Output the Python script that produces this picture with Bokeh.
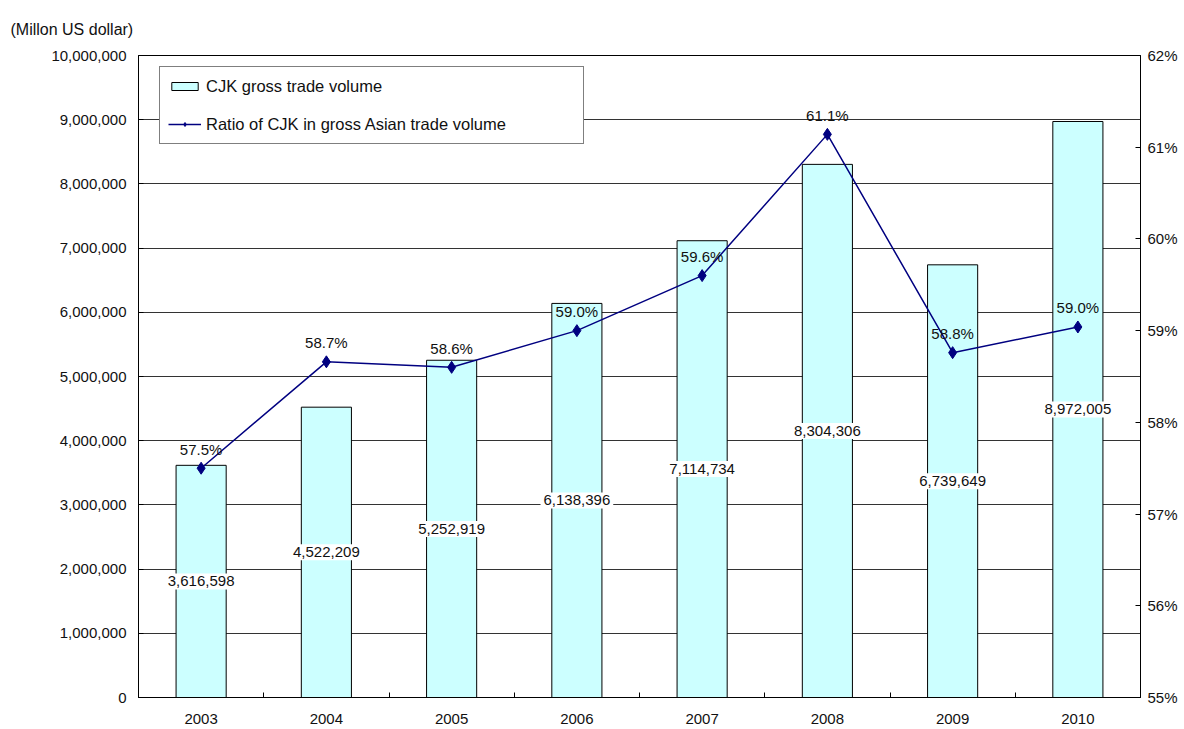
from bokeh.plotting import figure
from bokeh.models import (Range1d, LinearAxis, FixedTicker, SingleIntervalTicker,
                          NumeralTickFormatter, PrintfTickFormatter, ColumnDataSource,
                          LabelSet, Legend, LegendItem)
from bokeh.core.properties import value
from bokeh.embed import file_html
from bokeh.resources import INLINE

years = ["2003", "2004", "2005", "2006", "2007", "2008", "2009", "2010"]
volume = [3616598, 4522209, 5252919, 6138396, 7114734, 8304306, 6739649, 8972005]
ratio = [57.5, 58.66, 58.6, 59.0, 59.6, 61.14, 58.76, 59.04]

FONT = "Liberation Sans"
FS = "15px"
TXT = "#111111"

xs = [i + 0.5 for i in range(len(years))]
src = ColumnDataSource(dict(
    x=xs, vol=volume, half=[v / 2 for v in volume], ratio=ratio,
    vol_lbl=[f"{v:,}" for v in volume],
    pct_lbl=[f"{r:.1f}%" for r in ratio],
))

p = figure(width=1184, height=729, output_backend="svg", toolbar_location=None,
           x_range=Range1d(0, len(years)), y_range=Range1d(0, 10_000_000),
           min_border_left=138, min_border_right=44, min_border_top=55, min_border_bottom=32)
p.extra_y_ranges = {"right": Range1d(55, 62)}
p.background_fill_color = "white"
p.border_fill_color = "white"
p.outline_line_color = "black"
p.outline_line_width = 1

p.title.text = "(Millon US dollar)"
p.title.align = "left"
p.title.offset = -128
p.title.standoff = 36
p.title.text_font = FONT
p.title.text_font_size = "16px"
p.title.text_font_style = "normal"
p.title.text_color = TXT

# x axis
p.xaxis.ticker = FixedTicker(ticks=xs, minor_ticks=list(range(len(years) + 1)))
p.xaxis.major_label_overrides = {x: y for x, y in zip(xs, years)}
p.xaxis.major_tick_line_color = None
p.xaxis.minor_tick_in = 5
p.xaxis.minor_tick_out = 0
p.xaxis.minor_tick_line_color = "black"
p.xaxis.axis_line_color = "black"
p.xaxis.major_label_standoff = 10
p.xaxis.major_label_text_font = FONT
p.xaxis.major_label_text_font_size = FS
p.xaxis.major_label_text_color = TXT
p.xgrid.grid_line_color = None

# left axis
p.yaxis.ticker = SingleIntervalTicker(interval=1_000_000, num_minor_ticks=0)
p.yaxis.formatter = NumeralTickFormatter(format="0,0")
p.yaxis.major_tick_in = 5
p.yaxis.major_tick_out = 0
p.yaxis.minor_tick_line_color = None
p.yaxis.axis_line_color = "black"
p.yaxis.major_label_standoff = 12
p.yaxis.major_label_text_font = FONT
p.yaxis.major_label_text_font_size = FS
p.yaxis.major_label_text_color = TXT
p.ygrid.ticker = SingleIntervalTicker(interval=1_000_000, num_minor_ticks=0)
p.ygrid.grid_line_color = "#333333"
p.ygrid.grid_line_width = 1

# right axis
ra = LinearAxis(y_range_name="right",
                ticker=SingleIntervalTicker(interval=1, num_minor_ticks=0),
                formatter=PrintfTickFormatter(format="%d%%"))
ra.major_tick_in = 5
ra.major_tick_out = 0
ra.minor_tick_line_color = None
ra.axis_line_color = "black"
ra.major_label_standoff = 7
ra.major_label_text_font = FONT
ra.major_label_text_font_size = FS
ra.major_label_text_color = TXT
p.add_layout(ra, "right")

# bars
bars = p.vbar(x="x", top="vol", width=0.4, source=src, fill_color="#CCFFFF",
              line_color="black", line_width=1)

# ratio line
line = p.line(x="x", y="ratio", source=src, y_range_name="right",
              line_color="#000080", line_width=1.5)
pts = p.scatter(x="x", y="ratio", source=src, y_range_name="right", marker="diamond",
                size=12, fill_color="#000080", line_color="#000080")

# value labels with white background
p.text(x="x", y="half", text="vol_lbl", source=src,
       text_align="center", text_baseline="middle",
       text_font=value(FONT), text_font_size=value(FS), text_color=TXT,
       background_fill_color="white", padding=3)

pct_labels = LabelSet(x="x", y="ratio", text="pct_lbl", source=src, y_range_name="right",
                      y_offset=19, text_align="center", text_baseline="middle",
                      text_font=value(FONT), text_font_size=value(FS), text_color=TXT)
p.add_layout(pct_labels)

legend = Legend(items=[
    LegendItem(label="CJK gross trade volume", renderers=[bars]),
    LegendItem(label="Ratio of CJK in gross Asian trade volume", renderers=[line, pts]),
], location=(21, 553))
legend.border_line_color = "black"
legend.border_line_width = 1
legend.background_fill_color = "white"
legend.background_fill_alpha = 1
legend.padding = 8
legend.margin = 0
legend.spacing = 16
legend.glyph_width = 33
legend.glyph_height = 10
legend.label_height = 22
legend.label_width = 369
legend.label_standoff = 5
legend.label_text_font = FONT
legend.label_text_font_size = "16.5px"
legend.label_text_color = TXT
p.add_layout(legend, "center")

open("out.html", "w").write(file_html(p, INLINE))
